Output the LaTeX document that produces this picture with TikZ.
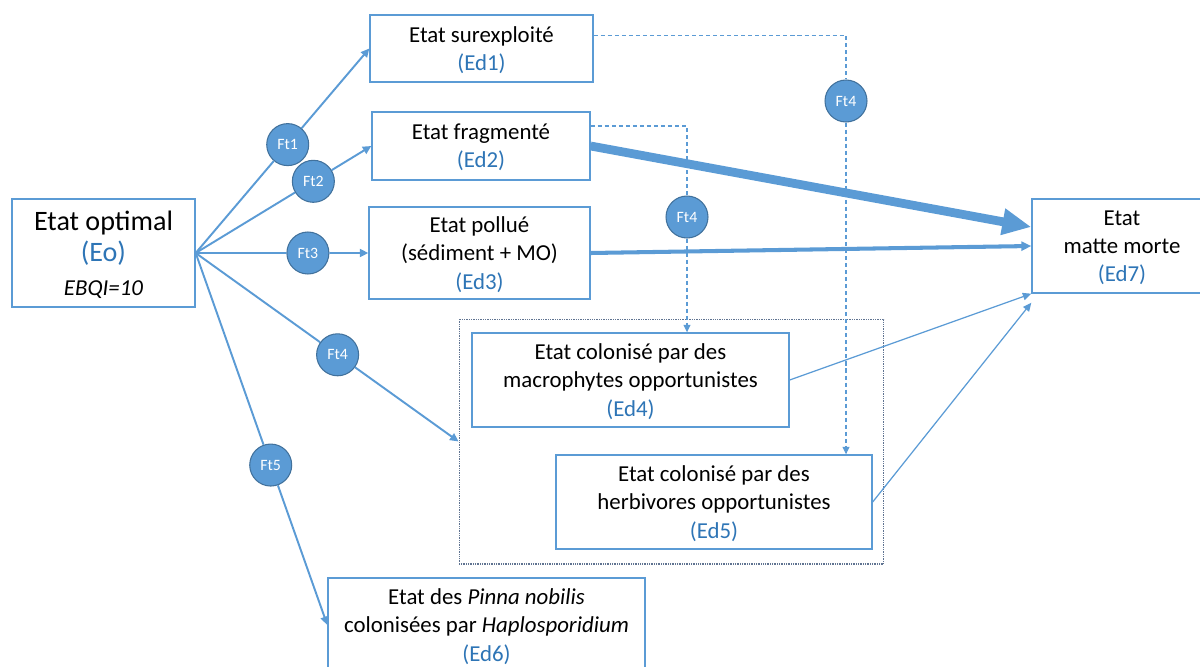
\documentclass[tikz,border=0pt]{standalone}
\usepackage{fontspec}
\setmainfont{Carlito}
\usetikzlibrary{arrows.meta,calc,positioning}

\definecolor{lineblue}{RGB}{91,155,213}
\definecolor{textblue}{RGB}{46,117,182}
\definecolor{ftborder}{RGB}{65,113,156}
\definecolor{dotgray}{RGB}{95,115,145}

\tikzset{
	state/.style={draw=lineblue, line width=0.8pt, fill=white, align=center, inner sep=2pt, text depth=0pt, font=\fontsize{13}{16}\selectfont},
	ft/.style={circle, fill=lineblue, draw=ftborder, line width=0.6pt, minimum size=0.84cm, inner sep=0pt, text=white, font=\fontsize{9}{10}\selectfont},
	link/.style={lineblue, line width=1.1pt, -{Triangle[length=0.17cm,width=0.16cm]}},
	thinlink/.style={lineblue, line width=0.7pt, -{Triangle[length=0.17cm,width=0.15cm]}},
	dashlink/.style={lineblue, line width=0.6pt, dash pattern=on 2.3pt off 1.7pt},
}
\newcommand{\edlabel}[1]{{\color{textblue}(#1)}}

\begin{document}
\begin{tikzpicture}[x=0.02cm, y=-0.02cm]
				\useasboundingbox (0,0) rectangle (1200,666);
				% Frame round the colonised states
				\node[draw=dotgray, line width=0.6pt, dash pattern=on 0.45pt off 0.55pt, minimum width=8.5cm, minimum height=4.9cm] (colon) at (671.5,441.5) {};
				% States
				\node[state, minimum width=3.66cm, minimum height=2.16cm] (Eo) at (103.5,253)
					{{\fontsize{16}{20}\selectfont Etat optimal}\\[2pt] {\fontsize{16}{18}\selectfont\color{textblue}(Eo)}\\[3pt] {\itshape EBQI=10}};
				\node[state, minimum width=4.46cm, minimum height=1.34cm] (Ed1) at (481.5,48.5) {Etat surexploité\\ \edlabel{Ed1}};
				\node[state, minimum width=4.36cm, minimum height=1.36cm] (Ed2) at (481,146) {Etat fragmenté\\ \edlabel{Ed2}};
				\node[state, minimum width=4.42cm, minimum height=1.84cm] (Ed3) at (479.5,253) {Etat pollué\\ (sédiment + MO)\\ \edlabel{Ed3}};
				\node[state, minimum width=6.34cm, minimum height=1.88cm] (Ed4) at (630.5,380) {Etat colonisé par des\\ macrophytes opportunistes\\ \edlabel{Ed4}};
				\node[state, minimum width=6.32cm, minimum height=1.88cm] (Ed5) at (714,502) {Etat colonisé par des\\ herbivores opportunistes\\ \edlabel{Ed5}};
				\node[state, minimum width=6.34cm, minimum height=1.88cm] (Ed6) at (486.5,625) {Etat des \textit{Pinna nobilis}\\ colonisées par \textit{Haplosporidium}\\ \edlabel{Ed6}};
				\node[state, minimum width=3.6cm, minimum height=1.88cm] (Ed7) at (1122,246) {Etat\\ matte morte\\ \edlabel{Ed7}};
				% Forcing factors
				\node[ft] (ft1) at ($(Eo.east)!0.53!(Ed1.west)$) {Ft1};
				\node[ft] (ft2) at ($(Eo.east)!0.67!(Ed2.west)$) {Ft2};
				\node[ft] (ft3) at ($(Eo.east)!0.65!(Ed3.west)$) {Ft3};
				\node[ft] (ft4) at ($(Eo.east)!0.54!(colon.west)$) {Ft4};
				\node[ft] (ft5) at ($(Eo.east)!0.57!(Ed6.west)$) {Ft5};
				\node[ft] (ft4a) at (687,217) {Ft4};
				\node[ft] (ft4b) at (846,101) {Ft4};
				% From the optimal state
				\draw[link] (Eo.east) -- (ft1) -- (Ed1.west);
				\draw[link] (Eo.east) -- (ft2) -- (Ed2.west);
				\draw[link] (Eo.east) -- (ft3) -- (Ed3.west);
				\draw[link] (Eo.east) -- (ft4) -- (colon.west);
				\draw[link] (Eo.east) -- (ft5) -- (Ed6.west);
				% Secondary transitions
				\draw[dashlink] ([yshift=0.26cm]Ed1.east) -| (ft4b);
				\draw[dashlink, -{Triangle[length=0.15cm,width=0.14cm]}] (ft4b) -- (ft4b |- Ed5.north);
				\draw[dashlink] ([yshift=0.4cm]Ed2.east) -| (ft4a);
				\draw[dashlink, -{Triangle[length=0.15cm,width=0.14cm]}] (ft4a) -- (ft4a |- Ed4.north);
				% Towards dead matte
				\draw[lineblue, line width=5pt, -{Triangle[length=0.58cm,width=0.5cm]}] (Ed2.east) -- ([yshift=0.38cm]Ed7.west);
				\draw[lineblue, line width=2.3pt, -{Triangle[length=0.2cm,width=0.18cm]}] (Ed3.east) -- (Ed7.west);
				\draw[thinlink] (Ed4.east) -- (Ed7.south west);
				\draw[thinlink] (Ed5.east) -- ([yshift=-0.18cm]Ed7.south west);
			\end{tikzpicture}
\end{document}
